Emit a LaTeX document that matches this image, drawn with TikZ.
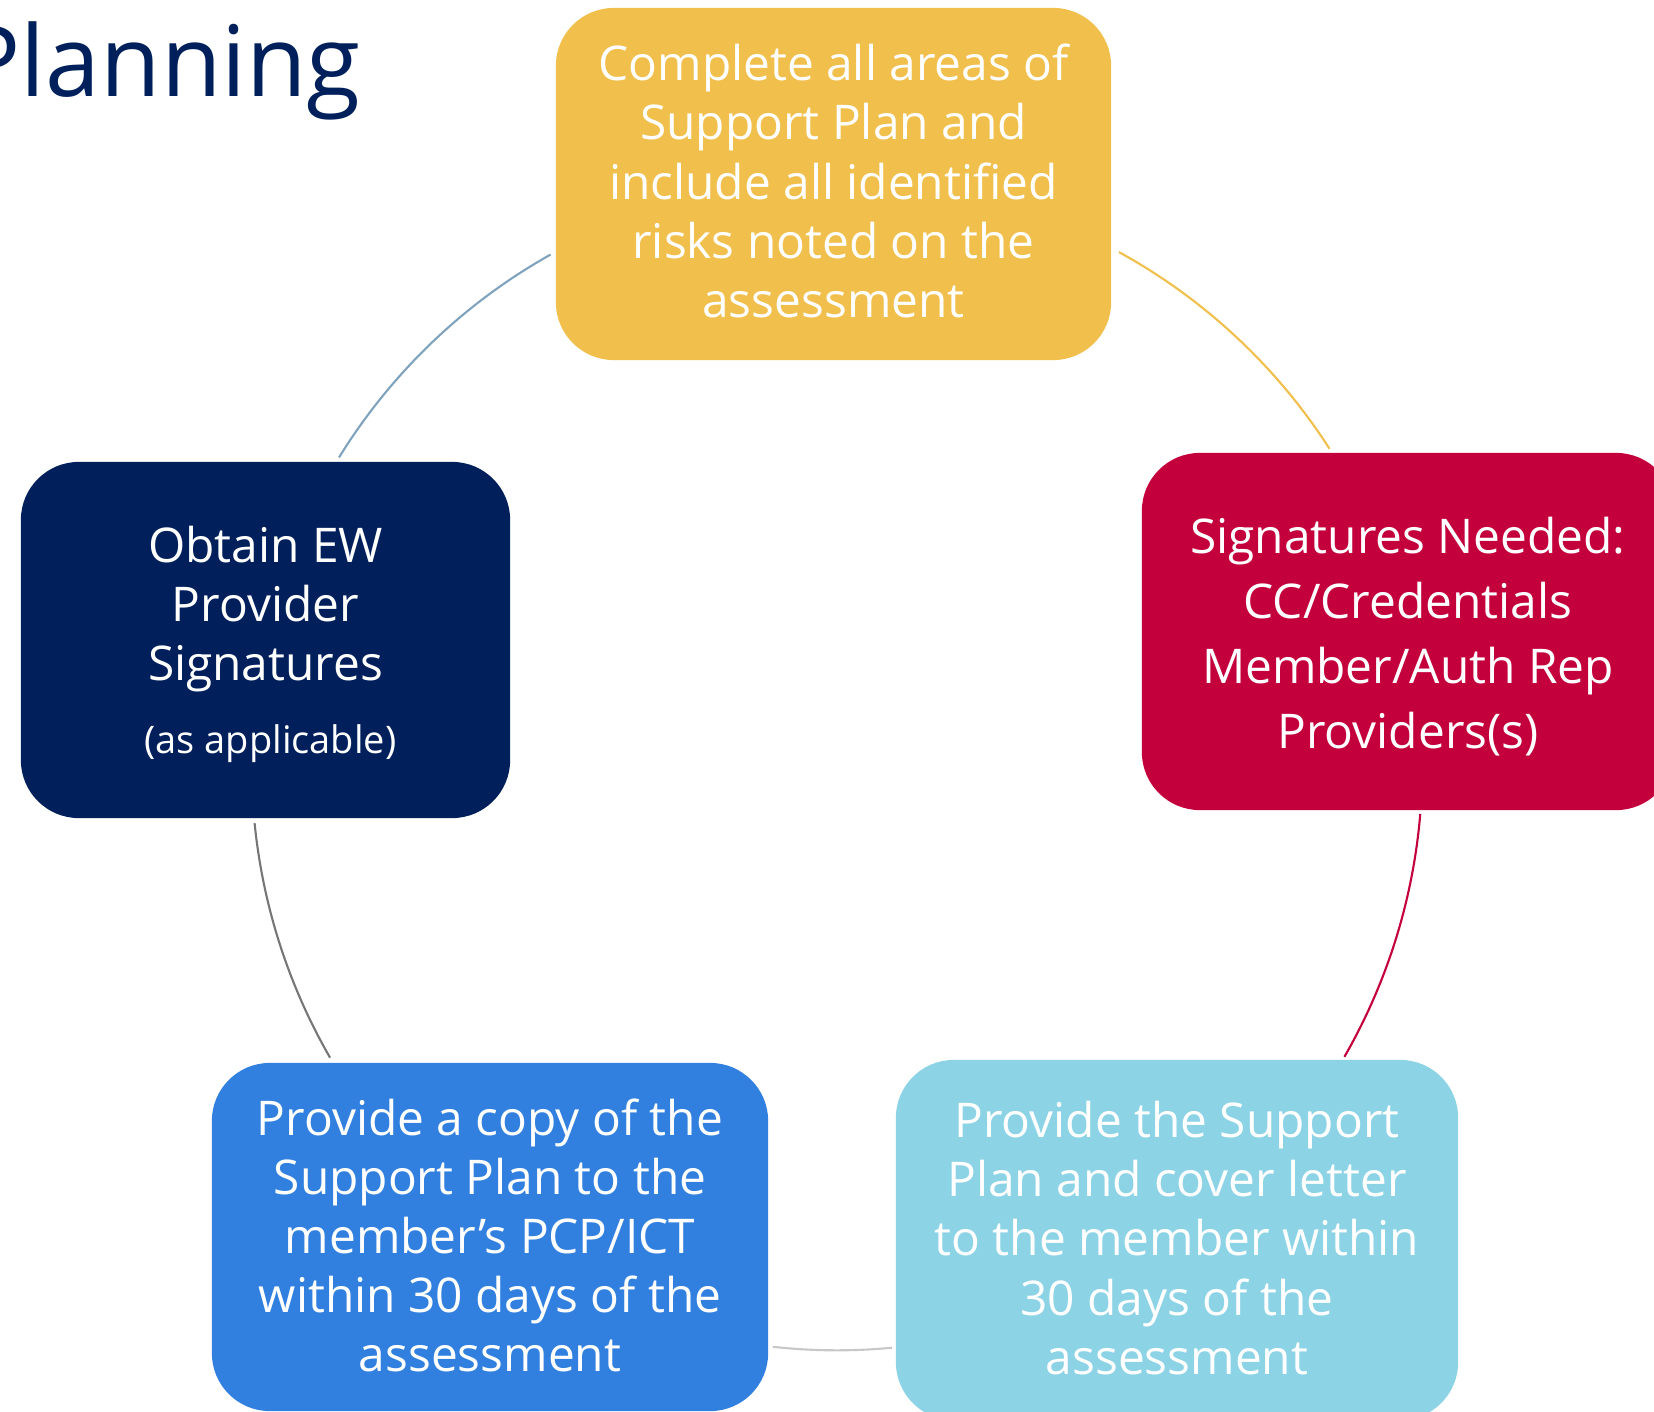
\documentclass[tikz,border=0pt]{standalone}
\usepackage{fontspec}
\setmainfont{Open Sans}
\usetikzlibrary{calc}

\definecolor{planyellow}{RGB}{240,191,76}
\definecolor{signred}{RGB}{196,0,60}
\definecolor{letterblue}{RGB}{140,211,230}
\definecolor{copyblue}{RGB}{49,128,223}
\definecolor{ewnavy}{RGB}{0,31,91}
\definecolor{titlenavy}{RGB}{0,32,91}
\definecolor{arcsteel}{RGB}{127,163,189}
\definecolor{arcgrey}{RGB}{118,118,118}
\definecolor{arclight}{RGB}{200,200,200}

\begin{document}
\begin{tikzpicture}[x=0.01cm, y=-0.01cm,
    stepbox/.style={rounded corners=0.58cm, inner sep=0pt},
    steptext/.style={inner sep=0pt, text=white, align=center,
        font=\fontsize{13.6}{16.8}\selectfont},
    ring/.style={line width=0.6pt}]
    \useasboundingbox (0,0) rectangle (1654,1412);
    \clip (0,0) rectangle (1654,1412);

    \node[anchor=base west, inner sep=0pt, text=titlenavy, font=\fontsize{28}{32}\selectfont] (title) at (-39,97) {Planning};

    % boxes
    \node[stepbox, fill=planyellow, minimum width=5.55cm, minimum height=3.52cm] (plan) at (833.5,184) {};
    \node[stepbox, fill=signred, minimum width=5.32cm, minimum height=3.57cm] (sign) at (1408,631.5) {};
    \node[stepbox, fill=letterblue, minimum width=5.62cm, minimum height=3.60cm] (letter) at (1177,1240) {};
    \node[stepbox, fill=copyblue, minimum width=5.56cm, minimum height=3.48cm] (copy) at (490,1237) {};
    \node[stepbox, fill=ewnavy, minimum width=4.89cm, minimum height=3.56cm] (ew) at (265.5,640) {};

    % texts
    \node[steptext] (plantext) at ($(plan.center)+(0,-3)$)
        {Complete all areas of\\Support Plan and\\include all identified\\risks noted on the\\assessment};
    \node[steptext, font=\fontsize{13.6}{18.5}\selectfont] (signtext) at ($(sign.center)+(0,5)$)
        {Signatures Needed:\\CC/Credentials\\Member/Auth Rep\\Providers(s)};
    \node[steptext] (lettertext) at ($(letter.center)+(0,-2)$)
        {Provide the Support\\Plan and cover letter\\to the member within\\30 days of the\\assessment};
    \node[steptext] (copytext) at ($(copy.center)+(0,-1.5)$)
        {Provide a copy of the\\Support Plan to the\\member’s PCP/ICT\\within 30 days of the\\assessment};
    \node[steptext] (ewtext) at ($(ew.center)+(0,4)$)
        {Obtain EW\\Provider\\Signatures\\[3.9pt]{\fontsize{10.8}{13}\selectfont\hspace*{2.8pt}(as applicable)}};

    % ring between the steps
    \coordinate (ctr) at (837,765);
    \coordinate (r1) at ($(ctr)+(61.2:5.85cm)$);
    \coordinate (r2) at ($(ctr)+(-4.8:5.85cm)$);
    \coordinate (r3) at ($(ctr)+(-84.6:5.85cm)$);
    \coordinate (r4) at ($(ctr)+(210:5.85cm)$);
    \coordinate (r5) at ($(ctr)+(148.3:5.85cm)$);

    \draw[ring, planyellow] (r1) arc[start angle=61.2, end angle=32.7, radius=5.85cm];
    \draw[ring, signred] (r2) arc[start angle=-4.8, end angle=-29.9, radius=5.85cm];
    \draw[ring, arclight] (r3) arc[start angle=-84.6, end angle=-96.3, radius=5.85cm];
    \draw[ring, arcgrey] (r4) arc[start angle=210, end angle=185.7, radius=5.85cm];
    \draw[ring, arcsteel] (r5) arc[start angle=148.3, end angle=119.3, radius=5.85cm];
\end{tikzpicture}
\end{document}
